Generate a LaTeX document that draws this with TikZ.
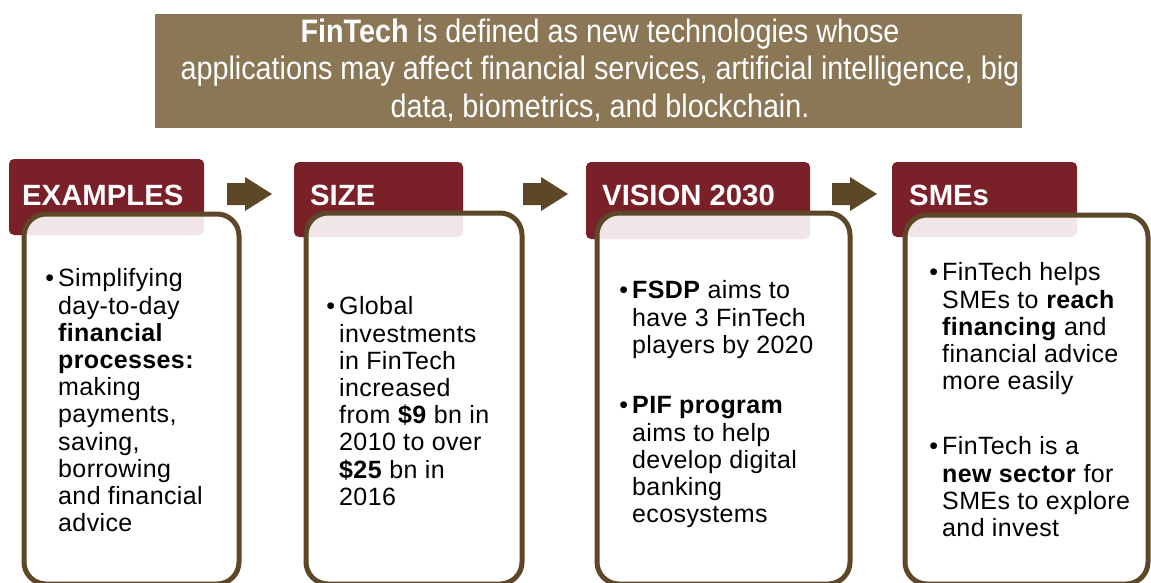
\documentclass[tikz,border=0pt]{standalone}
\usepackage{fontspec}
\setmainfont{Liberation Sans}
\newfontfamily\bannerfont{Liberation Sans}[FakeStretch=0.885]
\newfontfamily\cardfont{Liberation Sans}[LetterSpace=1.5]

\definecolor{hdrred}{RGB}{122,32,41}
\definecolor{bannerbrown}{RGB}{139,119,86}
\definecolor{framebrown}{RGB}{92,72,39}

\tikzset{
	hdr/.style={fill=hdrred, rounded corners=5pt},
	hdrtext/.style={anchor=base west, inner sep=0pt, text=white, font=\fontsize{29.3}{31}\selectfont\bfseries},
	card/.style={draw=framebrown, line width=5pt, fill=white, fill opacity=0.89, rounded corners=22pt},
	cardtext/.style={anchor=north west, inner sep=0pt, align=left, font=\cardfont\fontsize{25}{27.2}\selectfont},
}

% bullet hanging left of the first line
\newcommand{\bul}{\llap{\textbullet\hspace{4pt}}}
% block arrow between two headers, #1 = left end of the shaft
\newcommand{\blockarrow}[1]{\fill[framebrown] (#1,183) -- ++(18,0) -- ++(0,-6) -- ++(27,17) -- ++(-27,17) -- ++(0,-6) -- ++(-18,0) -- cycle;}

\begin{document}
\begin{tikzpicture}[x=1pt, y=-1pt]
	\useasboundingbox (0,0) rectangle (1151,582);
	\clip (0,0) rectangle (1151,582);

	% definition banner
	\fill[bannerbrown] (155,14) rectangle (1022,128);
	\node[align=center, inner sep=0pt, text=white, font=\bannerfont\fontsize{32.5}{37.5}\selectfont] (def) at (600,70)
		{\textbf{FinTech} is defined as new technologies whose\\applications may affect financial services, artificial intelligence, big\\data, biometrics, and blockchain.};

	% headers
	\fill[hdr] (9,159) rectangle (204,235);
	\fill[hdr] (294,162) rectangle (463,237);
	\fill[hdr] (586,162) rectangle (810,239);
	\fill[hdr] (892,162) rectangle (1077,237);
	\node[hdrtext] (examples) at (22,205) {EXAMPLES};
	\node[hdrtext] (size) at (310,205) {SIZE};
	\node[hdrtext] (vision) at (602,205) {VISION 2030};
	\node[hdrtext] (smes) at (909,205) {SMEs};

	\blockarrow{227}
	\blockarrow{523}
	\blockarrow{832}

	% cards, open at the bottom edge
	\draw[card] (24,214) rectangle (239,584);
	\draw[card] (306,213) rectangle (522,584);
	\draw[card] (597,213) rectangle (850,584);
	\draw[card] (905,215) rectangle (1148,584);

	\node[cardtext] (exlist) at (58,268.5) {\bul Simplifying\\day-to-day\\\textbf{financial}\\\textbf{processes:}\\making\\payments,\\saving,\\borrowing\\and financial\\advice};
	\node[cardtext] (sizelist) at (339,296.5) {\bul Global\\investments\\in FinTech\\increased\\from \textbf{\$9} bn in\\2010 to over\\\textbf{\$25} bn in\\2016};
	\node[cardtext] (fsdp) at (632,280.5) {\bul\textbf{FSDP} aims to\\have 3 FinTech\\players by 2020};
	\node[cardtext] (pif) at (632,396.5) {\bul\textbf{PIF program}\\aims to help\\develop digital\\banking\\ecosystems};
	\node[cardtext] (reach) at (942,262.5) {\bul FinTech helps\\SMEs to \textbf{reach}\\\textbf{financing} and\\financial advice\\more easily};
	\node[cardtext] (sector) at (942,436.5) {\bul FinTech is a\\\textbf{new sector} for\\SMEs to explore\\and invest};
\end{tikzpicture}
\end{document}
